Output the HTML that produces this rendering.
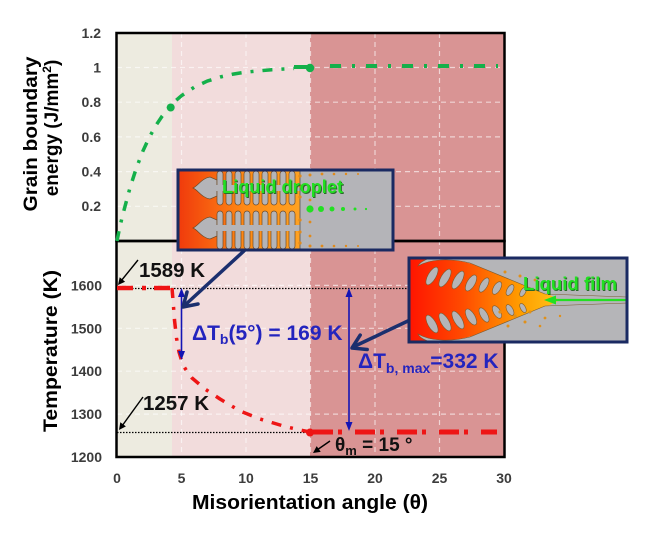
<!DOCTYPE html>
<html><head><meta charset="utf-8"><style>
html,body{margin:0;padding:0;background:#fff;}
svg{display:block;}
</style></head><body>
<svg width="652" height="535" viewBox="0 0 652 535" xmlns="http://www.w3.org/2000/svg" font-family="'Liberation Sans', Arial, sans-serif">
<defs>
 <linearGradient id="g1" x1="178" y1="0" x2="300" y2="0" gradientUnits="userSpaceOnUse">
  <stop offset="0" stop-color="#F03A0C"/><stop offset="0.55" stop-color="#FF8A14"/><stop offset="1" stop-color="#FFA222"/>
 </linearGradient>
 <linearGradient id="g2" x1="409" y1="0" x2="560" y2="0" gradientUnits="userSpaceOnUse">
  <stop offset="0" stop-color="#FF1400"/><stop offset="0.35" stop-color="#FF4A00"/><stop offset="0.75" stop-color="#FFA000"/><stop offset="1" stop-color="#FFC21A"/>
 </linearGradient>
 <clipPath id="c1"><rect x="178" y="170" width="215" height="80"/></clipPath>
 <clipPath id="c2"><rect x="409" y="258" width="218" height="84"/></clipPath>
</defs>

<!-- region fills top -->
<rect x="117" y="33" width="55" height="208" fill="#EDEBE0"/>
<rect x="172" y="33" width="138" height="208" fill="#F2DCDC"/>
<rect x="310" y="33" width="194" height="208" fill="#D99494"/>
<!-- region fills bottom -->
<rect x="117" y="241" width="55" height="216" fill="#EDEBE0"/>
<rect x="172" y="241" width="138" height="216" fill="#F2DCDC"/>
<rect x="310" y="241" width="194" height="216" fill="#D99494"/>

<!-- grid -->
<g stroke="#ffffff" stroke-opacity="0.6" stroke-width="1.2" stroke-dasharray="5 4" fill="none">
 <path d="M117,206.3H504M117,171.6H504M117,136.9H504M117,102.2H504M117,67.5H504"/>
 <path d="M117,414.1H504M117,371.2H504M117,328.3H504M117,285.4H504"/>
 <path d="M181.5,33V457M246,33V457M310.5,33V457M375,33V457M439.5,33V457"/>
</g>

<!-- frames -->
<rect x="116.5" y="33" width="388" height="208" fill="none" stroke="#000" stroke-width="2.5"/>
<rect x="116.5" y="241" width="388" height="216" fill="none" stroke="#000" stroke-width="2.5"/>

<!-- tick labels -->
<g font-size="14" font-weight="bold" fill="#3c3c3c" text-anchor="end">
 <text x="101" y="38">1.2</text>
 <text x="101" y="72.5">1</text>
 <text x="101" y="107">0.8</text>
 <text x="101" y="142">0.6</text>
 <text x="101" y="176.5">0.4</text>
 <text x="101" y="211">0.2</text>
 <text x="102" y="290.5">1600</text>
 <text x="102" y="333.5">1500</text>
 <text x="102" y="376">1400</text>
 <text x="102" y="419">1300</text>
 <text x="102" y="462">1200</text>
</g>
<g font-size="14" font-weight="bold" fill="#3c3c3c" text-anchor="middle">
 <text x="117" y="483">0</text>
 <text x="181.5" y="483">5</text>
 <text x="246" y="483">10</text>
 <text x="310.5" y="483">15</text>
 <text x="375" y="483">20</text>
 <text x="439.5" y="483">25</text>
 <text x="504" y="483">30</text>
</g>

<!-- axis titles -->
<g font-weight="bold" fill="#000">
 <text transform="translate(37,134) rotate(-90)" text-anchor="middle" font-size="19" textLength="155" lengthAdjust="spacingAndGlyphs">Grain boundary</text>
 <text transform="translate(58,128) rotate(-90)" text-anchor="middle" font-size="19">energy (J/mm<tspan font-size="12" dy="-7">2</tspan><tspan dy="7">)</tspan></text>
 <text transform="translate(57,351) rotate(-90)" text-anchor="middle" font-size="19" textLength="162" lengthAdjust="spacingAndGlyphs">Temperature (K)</text>
 <text x="310" y="509" text-anchor="middle" font-size="20" textLength="236" lengthAdjust="spacingAndGlyphs">Misorientation angle (θ)</text>
</g>

<!-- green curve -->
<path d="M117,241 L120,226 L123.45,212.2 L129.9,188.1 L136.35,168 L142.8,151.3 L149.25,137.4 L155.7,125.8 L162.15,116.1 L168.6,108 L175.05,101.3 L181.5,95.7 L194.4,87.1 L207.3,81.1 L220.2,77 L233.1,74.1 L246,72.1 L271.8,69.7 L294,68.5" fill="none" stroke="#14B04A" stroke-width="3.5" stroke-dasharray="10 9 3 9" stroke-linejoin="round"/>
<path d="M294,67 L310,67" stroke="#14B04A" stroke-width="4"/>
<path d="M330,66 H498" stroke="#14B04A" stroke-width="4" stroke-dasharray="11 11 3 11"/>
<circle cx="170.7" cy="107.5" r="4" fill="#14B04A"/>
<circle cx="310" cy="68" r="4.2" fill="#14B04A"/>

<!-- dotted reference lines -->
<path d="M117,288.5 H410" stroke="#000" stroke-width="1.3" stroke-dasharray="1.5 1.5"/>
<path d="M117,432.5 H310" stroke="#000" stroke-width="1.3" stroke-dasharray="1.5 1.5"/>

<!-- red curve -->
<path d="M117,288 H172" stroke="#EE1515" stroke-width="4.5" stroke-dasharray="16 9 4 8"/>
<path d="M172,288 L173,300 L174.5,320 L176.5,338 L179,352 L183,365 L188,373 L192,378 L205,389 L220,399 L240,411 L260,419 L285,426.5 L300,430 L310,432" fill="none" stroke="#EE1515" stroke-width="3.5" stroke-dasharray="10 9 3 9" stroke-linejoin="round"/>
<path d="M313,432 H497" stroke="#EE1515" stroke-width="5" stroke-dasharray="20 5 4 13"/>
<circle cx="310" cy="432.5" r="4" fill="#EE1515"/>

<!-- blue double arrows -->
<g stroke="#1414B4" stroke-width="1.6">
 <path d="M181.5,295 V353"/>
 <path d="M349,295 V424"/>
</g>
<g fill="#1414B4">
 <polygon points="181.5,288 178,297 185,297"/>
 <polygon points="181.5,360 178,351 185,351"/>
 <polygon points="349,288 345.5,297 352.5,297"/>
 <polygon points="349,431 345.5,422 352.5,422"/>
</g>

<!-- blue texts -->
<g font-weight="bold" fill="#2424BE" font-size="21">
 <text x="192" y="340">ΔT<tspan font-size="14" dy="4">b</tspan><tspan dy="-4">(5°) = 169 K</tspan></text>
 <text x="358" y="368">ΔT<tspan font-size="14" dy="5">b, max</tspan><tspan dy="-5">=332 K</tspan></text>
</g>

<!-- black labels + arrows -->
<g font-weight="bold" fill="#111">
 <text x="139" y="277" font-size="20" textLength="66" lengthAdjust="spacingAndGlyphs">1589 K</text>
 <text x="143" y="410" font-size="20" textLength="66" lengthAdjust="spacingAndGlyphs">1257 K</text>
 <text x="335" y="451" font-size="19">θ<tspan font-size="13" dy="4">m</tspan><tspan dy="-4"> = 15 °</tspan></text>
</g>
<g stroke="#000" stroke-width="1.4">
 <path d="M138,260 L121,281"/>
 <path d="M143,397 L122,426"/>
 <path d="M330,441 L317,450"/>
</g>
<g fill="#000">
 <polygon points="118,285 125.1,281.7 119.7,277.3"/>
 <polygon points="119,430 125.9,426.4 120.3,422.2"/>
 <polygon points="313,453 320.7,451.9 316.7,446.1"/>
</g>

<!-- navy arrows -->
<g stroke="#1B2F6E" stroke-width="3.5" fill="none" stroke-linecap="round" stroke-linejoin="round">
 <path d="M245,250 L184,306"/>
 <path d="M198,304 L183,307 L187,292"/>
 <path d="M410,320 L353,347"/>
 <path d="M367.2,349.5 L352,348 L360.2,335.1"/>
</g>

<!-- inset 1 : liquid droplet -->
<g clip-path="url(#c1)">
 <rect x="178" y="170" width="215" height="80" fill="url(#g1)"/>
 <rect x="300" y="170" width="93" height="80" fill="#B4B4B8"/>
 <g fill="#B4B4B8" stroke="#6E4C2A" stroke-width="0.7">
  <path d="M193,188 C198,186 202,178 210,177 L217,180 L217,196 L210,199 C202,198 198,190 193,188 Z"/>
  <path d="M193,228 C198,226 202,218 210,217 L217,220 L217,236 L210,239 C202,238 198,230 193,228 Z"/>
  <rect x="217" y="171" width="6" height="34" rx="3"/>
  <rect x="226" y="171" width="6" height="34" rx="3"/>
  <rect x="235" y="171" width="6" height="34" rx="3"/>
  <rect x="244" y="171" width="6" height="34" rx="3"/>
  <rect x="253" y="171" width="6" height="34" rx="3"/>
  <rect x="262" y="171" width="6" height="34" rx="3"/>
  <rect x="271" y="171" width="6" height="34" rx="3"/>
  <rect x="280" y="171" width="6" height="34" rx="3"/>
  <rect x="289" y="171" width="6" height="34" rx="3"/>
  <rect x="217" y="211" width="6" height="38" rx="3"/>
  <rect x="226" y="211" width="6" height="38" rx="3"/>
  <rect x="235" y="211" width="6" height="38" rx="3"/>
  <rect x="244" y="211" width="6" height="38" rx="3"/>
  <rect x="253" y="211" width="6" height="38" rx="3"/>
  <rect x="262" y="211" width="6" height="38" rx="3"/>
  <rect x="271" y="211" width="6" height="38" rx="3"/>
  <rect x="280" y="211" width="6" height="38" rx="3"/>
  <rect x="289" y="211" width="6" height="38" rx="3"/>
 </g>
 <rect x="214" y="185" width="86" height="6" fill="#B4B4B8"/>
 <rect x="214" y="225" width="86" height="6" fill="#B4B4B8"/>
 <path d="M300,170 V250" stroke="#555" stroke-width="0.8"/>
 <g fill="#E08A1C">
  <circle cx="300" cy="176" r="1.6"/><circle cx="300" cy="186" r="1.6"/><circle cx="300" cy="197" r="1.6"/>
  <circle cx="300" cy="220" r="1.6"/><circle cx="300" cy="232" r="1.6"/><circle cx="300" cy="243" r="1.6"/>
  <circle cx="310" cy="175" r="1.5"/><circle cx="322" cy="174" r="1.4"/><circle cx="334" cy="174" r="1.3"/><circle cx="346" cy="174" r="1.2"/><circle cx="358" cy="174" r="1"/>
  <circle cx="310" cy="246" r="1.5"/><circle cx="322" cy="246" r="1.4"/><circle cx="334" cy="246" r="1.3"/><circle cx="346" cy="246" r="1.2"/><circle cx="358" cy="246" r="1"/>
  <circle cx="310" cy="190" r="1.4"/><circle cx="310" cy="200" r="1.4"/><circle cx="310" cy="222" r="1.4"/><circle cx="310" cy="236" r="1.4"/>
 </g>
 <g fill="#22E022">
  <circle cx="310" cy="209" r="3.6"/><circle cx="321" cy="209" r="3"/><circle cx="332" cy="209" r="2.5"/><circle cx="343" cy="209" r="2"/><circle cx="355" cy="209" r="1.5"/><circle cx="366" cy="209" r="1.1"/>
 </g>
 <text x="223" y="194" font-size="18" font-weight="bold" fill="#2A6A2A" textLength="121" lengthAdjust="spacingAndGlyphs">Liquid droplet</text>
 <text x="222" y="193" font-size="18" font-weight="bold" fill="#22E022" textLength="121" lengthAdjust="spacingAndGlyphs">Liquid droplet</text>
</g>
<rect x="178" y="170" width="215" height="80" fill="none" stroke="#1A2A62" stroke-width="3"/>

<!-- inset 2 : liquid film -->
<g clip-path="url(#c2)">
 <rect x="409" y="258" width="218" height="84" fill="#B5B5B8"/>
 <path d="M409,258 L440,258 C480,262 520,280 560,300 C520,320 480,338 440,342 L409,342 Z" fill="url(#g2)"/>
 <g fill="#B5B5B8" stroke="#7A5A30" stroke-width="0.6">
  <path d="M418,266 C430,259 450,258 470,263 L545,294 L627,297 V258 H430 C425,260 420,262 418,266 Z"/>
  <path d="M418,334 C430,341 450,342 470,337 L545,306 L627,303 V342 H430 C425,340 420,338 418,334 Z"/>
  <ellipse cx="432" cy="276" rx="4" ry="10" transform="rotate(30 432 276)"/>
  <ellipse cx="445" cy="278" rx="4" ry="10" transform="rotate(30 445 278)"/>
  <ellipse cx="458" cy="280" rx="4" ry="10" transform="rotate(30 458 280)"/>
  <ellipse cx="471" cy="283" rx="4" ry="9" transform="rotate(30 471 283)"/>
  <ellipse cx="484" cy="285" rx="3.5" ry="8" transform="rotate(30 484 285)"/>
  <ellipse cx="497" cy="288" rx="3.5" ry="7" transform="rotate(30 497 288)"/>
  <ellipse cx="510" cy="290" rx="3" ry="6" transform="rotate(30 510 290)"/>
  <ellipse cx="523" cy="292" rx="2.5" ry="5" transform="rotate(30 523 292)"/>
  <ellipse cx="432" cy="324" rx="4" ry="10" transform="rotate(-30 432 324)"/>
  <ellipse cx="445" cy="322" rx="4" ry="10" transform="rotate(-30 445 322)"/>
  <ellipse cx="458" cy="320" rx="4" ry="10" transform="rotate(-30 458 320)"/>
  <ellipse cx="471" cy="317" rx="4" ry="9" transform="rotate(-30 471 317)"/>
  <ellipse cx="484" cy="315" rx="3.5" ry="8" transform="rotate(-30 484 315)"/>
  <ellipse cx="497" cy="312" rx="3.5" ry="7" transform="rotate(-30 497 312)"/>
  <ellipse cx="510" cy="310" rx="3" ry="6" transform="rotate(-30 510 310)"/>
  <ellipse cx="523" cy="308" rx="2.5" ry="5" transform="rotate(-30 523 308)"/>
 </g>
 <g fill="#E0901A">
  <circle cx="500" cy="312" r="1.6"/><circle cx="515" cy="316" r="1.6"/><circle cx="530" cy="312" r="1.5"/><circle cx="545" cy="318" r="1.4"/><circle cx="560" cy="316" r="1.2"/>
  <circle cx="525" cy="322" r="1.5"/><circle cx="540" cy="326" r="1.3"/><circle cx="508" cy="326" r="1.5"/>
  <circle cx="520" cy="276" r="1.5"/><circle cx="535" cy="280" r="1.4"/><circle cx="505" cy="272" r="1.5"/>
 </g>
 <path d="M553,300 H627" stroke="#22E022" stroke-width="2.2"/>
 <polygon points="544,300 556,295.5 556,304.5" fill="#22E022"/>
 <text x="524" y="291" font-size="18" font-weight="bold" fill="#2A6A2A" textLength="94" lengthAdjust="spacingAndGlyphs">Liquid film</text>
 <text x="523" y="290" font-size="18" font-weight="bold" fill="#22E022" textLength="94" lengthAdjust="spacingAndGlyphs">Liquid film</text>
</g>
<rect x="409" y="258" width="218" height="84" fill="none" stroke="#1A2A62" stroke-width="3"/>
</svg>
</body></html>
